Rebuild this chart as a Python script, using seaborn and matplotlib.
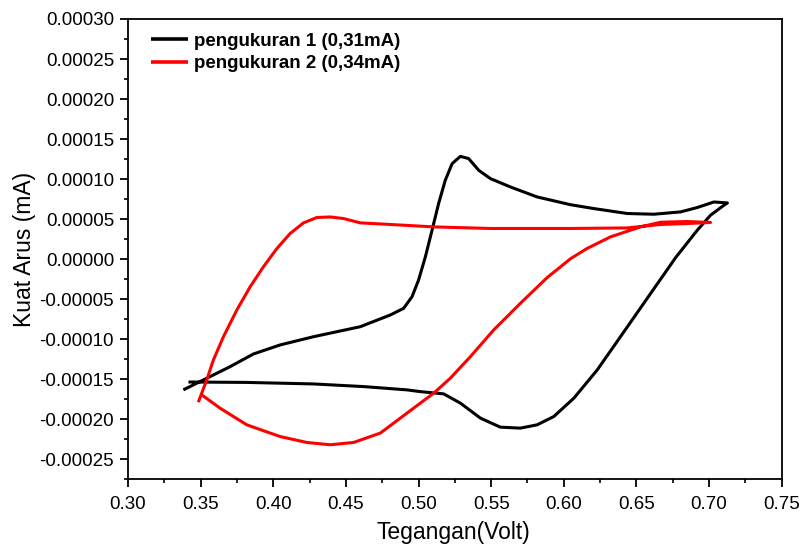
import matplotlib
matplotlib.use("Agg")
import matplotlib.pyplot as plt
from matplotlib.ticker import MultipleLocator, FormatStrFormatter
import pandas as pd
import seaborn as sns

# Cyclic voltammogram, measurement 1 (full sweep, in drawing order)
v1 = [0.3381, 0.3542, 0.3703, 0.3863, 0.4047, 0.4277, 0.4599, 0.4805, 0.4897,
      0.4955, 0.5000, 0.5047, 0.5093, 0.5138, 0.5184, 0.5231, 0.5288, 0.5345,
      0.5414, 0.5495, 0.5632, 0.5816, 0.6046, 0.6206, 0.6437, 0.6620, 0.6804,
      0.6919, 0.7033, 0.7126, 0.7102, 0.7010, 0.6919, 0.6770, 0.6574, 0.6390,
      0.6230, 0.6069, 0.5931, 0.5816, 0.5701, 0.5563, 0.5426, 0.5288, 0.5173,
      0.5012, 0.4920, 0.4621, 0.4277, 0.3818, 0.3416]
i1 = [-0.0001633, -0.0001488, -0.0001343, -0.0001185, -0.0001072, -0.0000969,
      -0.0000844, -0.0000698, -0.0000615, -0.0000470, -0.0000262, 0.0000029,
      0.0000362, 0.0000694, 0.0000985, 0.0001193, 0.0001284, 0.0001256,
      0.0001110, 0.0001006, 0.0000902, 0.0000777, 0.0000680, 0.0000632,
      0.0000570, 0.0000561, 0.0000590, 0.0000645, 0.0000714, 0.0000702,
      0.0000673, 0.0000549, 0.0000362, 0.0000020, -0.0000490, -0.0000969,
      -0.0001384, -0.0001737, -0.0001966, -0.0002070, -0.0002111, -0.0002099,
      -0.0001986, -0.0001799, -0.0001683, -0.0001655, -0.0001633, -0.0001592,
      -0.0001559, -0.0001540, -0.0001535]

# Cyclic voltammogram, measurement 2
v2 = [0.3484, 0.3542, 0.3588, 0.3657, 0.3749, 0.3841, 0.3932, 0.4025, 0.4116,
      0.4208, 0.4300, 0.4392, 0.4484, 0.4599, 0.4805, 0.5104, 0.5495, 0.6046,
      0.6437, 0.6666, 0.6850, 0.7010, 0.6850, 0.6666, 0.6528, 0.6321, 0.6160,
      0.6046, 0.5885, 0.5701, 0.5517, 0.5357, 0.5219, 0.5104, 0.5012, 0.4920,
      0.4737, 0.4553, 0.4392, 0.4231, 0.4047, 0.3818, 0.3634, 0.3508]
i2 = [-0.0001787, -0.0001509, -0.0001259, -0.0000969, -0.0000636, -0.0000345,
      -0.0000096, 0.0000133, 0.0000320, 0.0000453, 0.0000520, 0.0000527,
      0.0000507, 0.0000453, 0.0000433, 0.0000403, 0.0000383, 0.0000383,
      0.0000390, 0.0000433, 0.0000445, 0.0000458, 0.0000470, 0.0000461,
      0.0000403, 0.0000278, 0.0000133, 0.0000005, -0.0000231, -0.0000552,
      -0.0000885, -0.0001218, -0.0001487, -0.0001675, -0.0001799, -0.0001924,
      -0.0002173, -0.0002290, -0.0002319, -0.0002290, -0.0002216, -0.0002070,
      -0.0001862, -0.0001696]

labels = ["pengukuran 1 (0,31mA)", "pengukuran 2 (0,34mA)"]
colors = ["black", "red"]

df = pd.concat([
    pd.DataFrame({"V": v1, "I": i1, "seri": labels[0]}),
    pd.DataFrame({"V": v2, "I": i2, "seri": labels[1]}),
], ignore_index=True)

sns.set_style("ticks")
plt.rcParams["font.family"] = ["Liberation Sans", "DejaVu Sans"]
plt.rcParams["text.color"] = "black"
plt.rcParams["axes.labelcolor"] = "black"
plt.rcParams["xtick.color"] = "black"
plt.rcParams["ytick.color"] = "black"

fig = plt.figure(figsize=(8.04, 5.47), dpi=100)
ax = fig.add_axes([0.1592, 0.1238, 0.8131, 0.8415])

sns.lineplot(data=df, x="V", y="I", hue="seri", sort=False, estimator=None,
             palette=dict(zip(labels, colors)), linewidth=2.2, ax=ax)
for ln in ax.get_lines():
    ln.set_solid_joinstyle("round")
    ln.set_solid_capstyle("butt")

ax.set_xlim(0.30, 0.75)
ax.set_ylim(-0.000275, 0.00030)
ax.xaxis.set_major_locator(MultipleLocator(0.05))
ax.xaxis.set_minor_locator(MultipleLocator(0.025))
ax.yaxis.set_major_locator(MultipleLocator(0.00005))
ax.yaxis.set_minor_locator(MultipleLocator(0.000025))
ax.xaxis.set_major_formatter(FormatStrFormatter("%.2f"))
ax.yaxis.set_major_formatter(FormatStrFormatter("%.5f"))

ax.tick_params(which="major", direction="out", length=6, width=1.3,
               labelsize=13.5, colors="black")
ax.tick_params(axis="x", which="major", pad=6)
ax.tick_params(axis="y", which="major", pad=4)
ax.tick_params(which="minor", direction="out", length=3, width=1.2,
               colors="black")
for s in ax.spines.values():
    s.set_linewidth(1.3)
    s.set_color("black")
    s.set_visible(True)

ax.set_xlabel("Tegangan(Volt)", fontsize=16.5, color="black")
ax.set_ylabel("Kuat Arus (mA)", fontsize=16.5, color="black")
ax.xaxis.set_label_coords(0.498, -0.090)
ax.yaxis.set_label_coords(-0.141, 0.5)

leg = ax.legend(loc="upper left", frameon=False,
                prop={"weight": "bold", "size": 13.5},
                handlelength=2.0, handletextpad=0.28, borderaxespad=0.0,
                borderpad=0.0, labelspacing=0.28,
                bbox_to_anchor=(0.035, 0.970))
for line in leg.get_lines():
    line.set_linewidth(2.6)
for t in leg.get_texts():
    t.set_color("black")

fig.savefig("out.png", dpi=100)
